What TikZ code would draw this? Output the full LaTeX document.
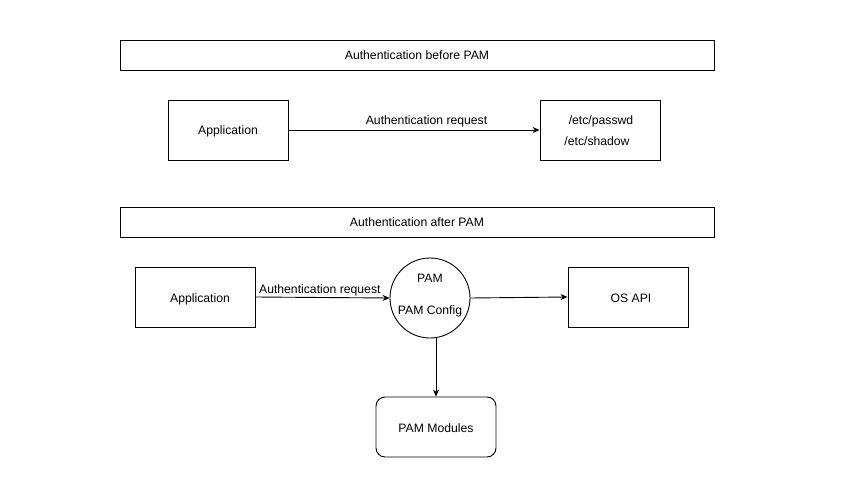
\documentclass[tikz,border=0pt]{standalone}
\usepackage{fontspec}
\setmainfont{Liberation Sans}
\usetikzlibrary{arrows.meta}
\begin{document}
\begin{tikzpicture}[x=1pt,y=-1pt,
  every node/.style={font=\fontsize{12.2}{14}\selectfont,text height=11pt,text depth=1pt},
  box/.style={draw,line width=0.9pt,minimum width=120pt,minimum height=60pt,inner sep=0pt},
  titlebox/.style={draw,line width=0.9pt,minimum width=594pt,minimum height=30pt,inner sep=0pt},
  arr/.style={line width=0.9pt,-{Stealth[length=7pt,width=6pt]}},
  lbl/.style={inner sep=1pt}]
\useasboundingbox (0,0) rectangle (845,478);
\node[titlebox] (t1) at (417,55) {Authentication before PAM};
\node[box] (app1) at (228,130) {Application};
\node[box] (etc) at (600,130) {};
\node (pw) at (601,120) {/etc/passwd};
\node (sh) at (597,141) {/etc/shadow};
\draw[arr] (app1.east) -- node[lbl,above,pos=0.55,yshift=3pt] {Authentication request} (etc.west);

\node[titlebox] (t2) at (417,222) {Authentication after PAM};
\node[box] (app2) at (195,297) {};
\node (app2t) at (200,297) {Application};
\node[draw,circle,line width=0.9pt,minimum size=80pt,inner sep=0pt] (pam) at (430,298) {};
\node (pamt) at (430,277) {PAM};
\node (pamc) at (430,309) {PAM Config};
\node[box] (os) at (628,297) {};
\node (ost) at (631,297) {OS API};
\node[box,rounded corners=9pt] (mod) at (436,427) {PAM Modules};
\draw[arr] (app2.east) -- node[lbl,above,pos=0.48,yshift=1.5pt] {Authentication request} (pam.west);
\draw[arr] (pam.east) -- (os.west);
\draw[arr] (436,337.5) coordinate (pb) -- (mod.north);
\end{tikzpicture}
\end{document}
